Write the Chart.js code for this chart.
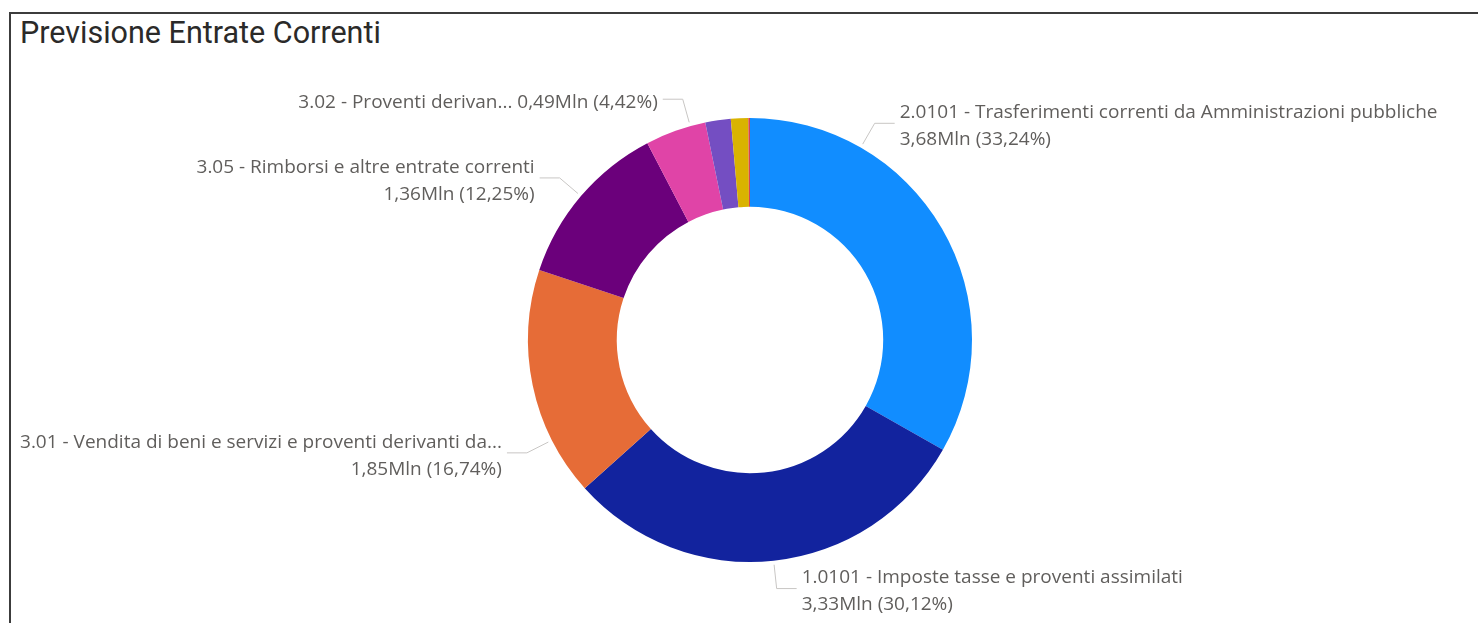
<!DOCTYPE html>
<html>
	<head>
		<title>Previsione Entrate Correnti</title>
		<script src="https://cdn.jsdelivr.net/npm/chart.js@4.4.0/dist/chart.umd.min.js"></script>
		<style>
			html, body { margin: 0; padding: 0; background: #fff; overflow: hidden; }
			#frame {
				position: absolute; left: 9px; top: 12px;
				width: 1600px; height: 800px;
				border: 2px solid #3c3c3c;
			}
			#title {
				position: absolute; left: 20px; top: 15px;
				font-family: Roboto, sans-serif; font-size: 30.5px;
				color: #2b2a29; white-space: nowrap;
			}
			#wrap { position: absolute; left: 0; top: 0; width: 1478px; height: 623px; }
		</style>
	</head>
	<body>
		<div id="frame"></div>
		<div id="title">Previsione Entrate Correnti</div>
		<div id="wrap"><canvas id="myChart"></canvas></div>
		<script>
			// dati
			const categories = [
				"2.0101 - Trasferimenti correnti da Amministrazioni pubbliche",
				"1.0101 - Imposte tasse e proventi assimilati",
				"3.01 - Vendita di beni e servizi e proventi derivanti da...",
				"3.05 - Rimborsi e altre entrate correnti",
				"3.02 - Proventi derivan...",
				"3.03 - Interessi attivi",
				"3.04 - Altre entrate da redditi da capitale",
				"2.0103 - Trasferimenti correnti da Imprese"
			]
			const valuesMln = [3.68, 3.33, 1.85, 1.36, 0.49, 0.20, 0.14, 0.013]
			const percents = [33.24, 30.12, 16.74, 12.25, 4.42, 1.85, 1.26, 0.12]
			const colors = ['#118DFF', '#12239E', '#E66C37', '#6B007B', '#E044A7', '#744EC2', '#D9B300', '#D64550']

			// etichette esterne: quali mostrare e dove agganciare la linea nella fetta
			const labelShown = [true, true, true, true, true, false, false, false]
			const labelAnchor = [0.25, 0.5, 0.25, 0.5, 0.75, 0.5, 0.5, 0.5]
			const labelOneLine = [false, false, false, false, true, false, false, false]

			function fmt (n, d) {
				return n.toFixed(d).replace('.', ',')
			}

			const outsideLabels = {
				id: 'outsideLabels',
				afterDatasetsDraw (chart) {
					const ctx = chart.ctx
					const arcs = chart.getDatasetMeta(0).data
					ctx.save()
					ctx.font = '19px "Open Sans", sans-serif'
					ctx.textBaseline = 'middle'
					arcs.forEach((arc, i) => {
						if (!labelShown[i]) return
						const p = arc.getProps(['x', 'y', 'startAngle', 'endAngle', 'outerRadius'], true)
						const a = p.startAngle + (p.endAngle - p.startAngle) * labelAnchor[i]
						const r0 = p.outerRadius + 4
						const r1 = p.outerRadius + 28
						const x0 = p.x + r0 * Math.cos(a), y0 = p.y + r0 * Math.sin(a)
						const x1 = p.x + r1 * Math.cos(a), y1 = p.y + r1 * Math.sin(a)
						const right = Math.cos(a) >= 0
						const x2 = x1 + (right ? 20 : -20)
						ctx.strokeStyle = '#c8c6c4'
						ctx.lineWidth = 1
						ctx.beginPath()
						ctx.moveTo(x0, y0)
						ctx.lineTo(x1, y1)
						ctx.lineTo(x2, y1)
						ctx.stroke()
						const valText = fmt(valuesMln[i], 2) + 'Mln (' + fmt(percents[i], 2) + '%)'
						const tx = x2 + (right ? 5 : -5)
						const ty = y1 + 3
						ctx.fillStyle = '#605E5C'
						ctx.textAlign = right ? 'left' : 'right'
						if (labelOneLine[i]) {
							ctx.fillText(categories[i] + ' ' + valText, tx, ty)
						} else {
							ctx.fillText(categories[i], tx, ty - 13.5)
							ctx.fillText(valText, tx, ty + 13.5)
						}
					})
					ctx.restore()
				}
			}

			const ctx = document.getElementById('myChart').getContext('2d')
			const chart = new Chart(ctx, {
				type: 'doughnut',
				data: {
					labels: categories,
					datasets: [{
						data: percents,
						backgroundColor: colors,
						borderWidth: 0
					}]
				},
				options: {
					responsive: true,
					maintainAspectRatio: false,
					animation: false,
					cutout: '60%',
					layout: {
						padding: { top: 118, bottom: 61, left: 22, right: 0 }
					},
					plugins: {
						legend: { display: false },
						tooltip: { enabled: false }
					}
				},
				plugins: [outsideLabels]
			})
		</script>
	</body>
</html>
